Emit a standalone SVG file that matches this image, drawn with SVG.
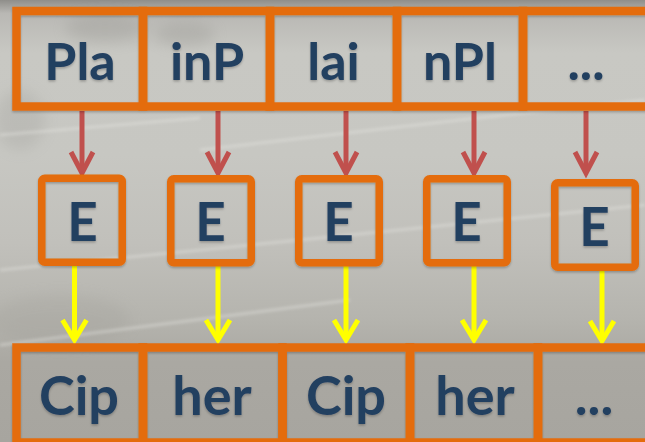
<svg xmlns="http://www.w3.org/2000/svg" width="645" height="442" viewBox="0 0 645 442">
  <defs>
    <linearGradient id="bg" x1="0" y1="0" x2="0" y2="1">
      <stop offset="0" stop-color="#8f8e8a"/>
      <stop offset="0.03" stop-color="#b9b8b4"/>
      <stop offset="0.12" stop-color="#c8c8c3"/>
      <stop offset="0.35" stop-color="#c7c7c2"/>
      <stop offset="0.55" stop-color="#c1c0bb"/>
      <stop offset="0.72" stop-color="#b5b4ae"/>
      <stop offset="0.82" stop-color="#aaa8a2"/>
      <stop offset="1" stop-color="#a7a59f"/>
    </linearGradient>
    <filter id="blur" x="-50%" y="-50%" width="200%" height="200%">
      <feGaussianBlur stdDeviation="7"/>
    </filter>
    <filter id="soft" x="-10%" y="-50%" width="120%" height="200%">
      <feGaussianBlur stdDeviation="1.5"/>
    </filter>
    <filter id="shadow" x="-10%" y="-10%" width="120%" height="130%">
      <feDropShadow dx="0" dy="1.5" stdDeviation="1.2" flood-color="#000" flood-opacity="0.25"/>
    </filter>
    <marker id="redHead" markerUnits="userSpaceOnUse" viewBox="-30 -16 40 32" refX="0" refY="0" markerWidth="40" markerHeight="32" orient="auto" overflow="visible">
      <path d="M-21,-11 L0,0 L-21,11" fill="none" stroke="#c0504d" stroke-width="5"/>
    </marker>
    <marker id="yelHead" markerUnits="userSpaceOnUse" viewBox="-30 -16 40 32" refX="0" refY="0" markerWidth="40" markerHeight="32" orient="auto" overflow="visible">
      <path d="M-20,-12 L0,0 L-20,12" fill="none" stroke="#ffff00" stroke-width="5"/>
    </marker>
  </defs>
  <style>
    .cell { fill: none; stroke: #e46c0a; stroke-width: 8.5; }
    .ebox { fill: none; stroke: #e46c0a; stroke-width: 7.5; }
    .txt { font-family: Lato, "Liberation Sans", sans-serif; font-weight: bold; fill: #243f60; text-anchor: middle; }
    .top { font-size: 52px; }
    .bot { font-size: 54px; }
    .e { font-size: 53px; }
    .red { stroke: #c0504d; stroke-width: 5; fill: none; marker-end: url(#redHead); }
    .yel { stroke: #ffff00; stroke-width: 5; fill: none; marker-end: url(#yelHead); }
  </style>

  <!-- background approximating the photo -->
  <g id="background">
    <rect x="0" y="0" width="645" height="442" fill="url(#bg)"/>
    <g filter="url(#blur)" opacity="0.25">
      <ellipse cx="105" cy="28" rx="40" ry="14" fill="#8a8984"/>
      <ellipse cx="185" cy="34" rx="30" ry="12" fill="#8a8984"/>
      <ellipse cx="20" cy="120" rx="25" ry="30" fill="#9a9994"/>
      <ellipse cx="60" cy="320" rx="70" ry="25" fill="#9d9b95"/>
    </g>
    <g stroke="#e6e6e2" stroke-width="3" opacity="0.4" fill="none" filter="url(#soft)">
      <path d="M0,135 L200,118"/>
      <path d="M200,150 L460,120 L645,100"/>
      <path d="M0,270 L300,240 L645,205"/>
      <path d="M0,345 L350,300"/>
    </g>
  </g>

  <g id="connectors">
    <path class="red" d="M82,111 V173"/>
    <path class="red" d="M218,111 V173"/>
    <path class="red" d="M346,111 V173"/>
    <path class="red" d="M474,111 V173"/>
    <path class="red" d="M586,111 V173"/>
    <path class="yel" d="M74.5,266 V340"/>
    <path class="yel" d="M218,266 V340"/>
    <path class="yel" d="M346,266 V340"/>
    <path class="yel" d="M474,266 V340"/>
    <path class="yel" d="M602,271 V341"/>
  </g>

  <g id="plaintext" filter="url(#shadow)">
    <g id="p1"><rect class="cell" x="16.5" y="11" width="126.5" height="95.5"/><text class="txt top" x="80" y="80">Pla</text></g>
    <g id="p2"><rect class="cell" x="143" y="11" width="127" height="95.5"/><text class="txt top" x="207" y="80">inP</text></g>
    <g id="p3"><rect class="cell" x="270" y="11" width="127" height="95.5"/><text class="txt top" x="333.5" y="80">lai</text></g>
    <g id="p4"><rect class="cell" x="397" y="11" width="126" height="95.5"/><text class="txt top" x="460" y="80">nPl</text></g>
    <g id="p5"><rect class="cell" x="523" y="11" width="140" height="95.5"/><text class="txt top" x="586" y="80">...</text></g>
  </g>

  <g id="encrypt" filter="url(#shadow)">
    <g id="e1"><rect class="ebox" x="41.75" y="178.25" width="80.5" height="84" rx="3"/><text class="txt e" x="82.5" y="241">E</text></g>
    <g id="e2"><rect class="ebox" x="170.75" y="178.75" width="80.5" height="84" rx="3"/><text class="txt e" x="210.5" y="241">E</text></g>
    <g id="e3"><rect class="ebox" x="298.75" y="178.75" width="80.5" height="84" rx="3"/><text class="txt e" x="338.5" y="241">E</text></g>
    <g id="e4"><rect class="ebox" x="426.75" y="178.75" width="80.5" height="84" rx="3"/><text class="txt e" x="466.5" y="241">E</text></g>
    <g id="e5"><rect class="ebox" x="554.75" y="182.75" width="80.5" height="84.5" rx="3"/><text class="txt e" x="594.5" y="246">E</text></g>
  </g>

  <g id="ciphertext" filter="url(#shadow)">
    <g id="c1"><rect class="cell" x="16.5" y="347.5" width="126.5" height="95"/><text class="txt bot" x="79" y="415">Cip</text></g>
    <g id="c2"><rect class="cell" x="143" y="347.5" width="139.5" height="95"/><text class="txt bot" x="212" y="415">her</text></g>
    <g id="c3"><rect class="cell" x="282.5" y="347.5" width="127.5" height="95"/><text class="txt bot" x="346" y="415">Cip</text></g>
    <g id="c4"><rect class="cell" x="410" y="347.5" width="128" height="95"/><text class="txt bot" x="475" y="415">her</text></g>
    <g id="c5"><rect class="cell" x="538" y="347.5" width="125" height="95"/><text class="txt bot" x="594" y="415">...</text></g>
  </g>
</svg>
